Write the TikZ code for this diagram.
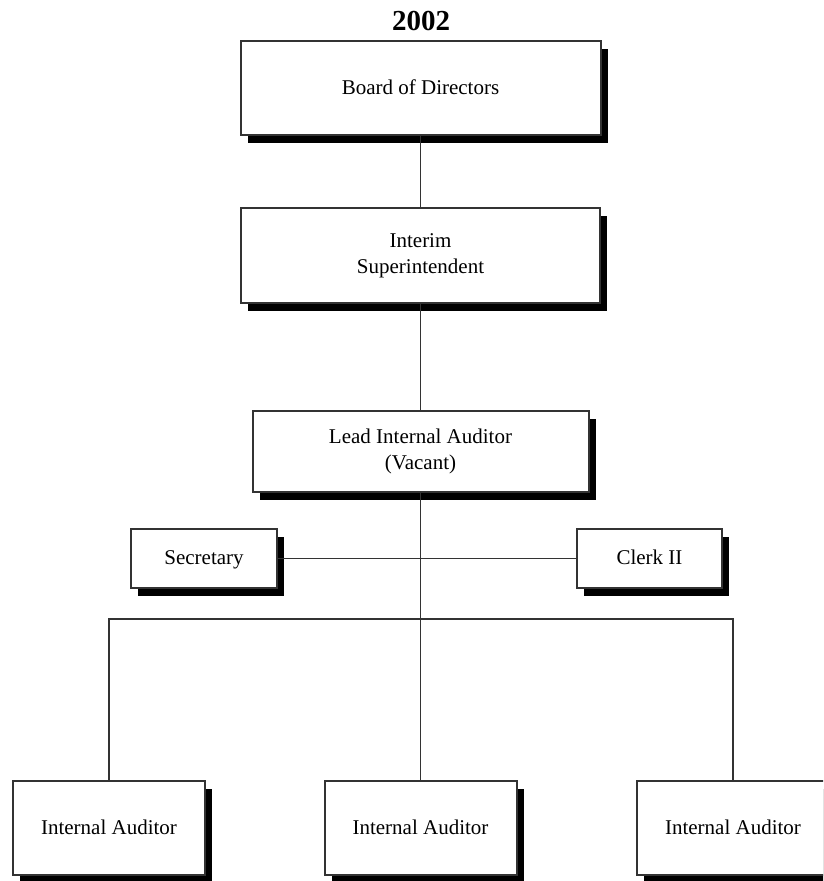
\documentclass[tikz,border=0pt]{standalone}
\usepackage{fontspec}
\setmainfont{Liberation Serif}
\usetikzlibrary{shadows}
\begin{document}
\begin{tikzpicture}[x=1pt,y=-1pt,
  orgbox/.style={draw=black!80, line width=2pt, fill=white, inner sep=0pt,
    align=center, font=\fontsize{21}{26}\selectfont,
    drop shadow={shadow xshift=7pt, shadow yshift=-8pt, fill=black, opacity=1}},
  oneline/.style={text height=14pt, text depth=2pt},
  link/.style={draw=black!80, line width=1.8pt}]
\useasboundingbox (0,0) rectangle (823,881);
\clip (0,0) rectangle (823,881);

% title
\node[anchor=base, font=\fontsize{29}{29}\selectfont\bfseries] (title) at (421,30) {2002};

% chain of command
\node[orgbox, oneline, minimum width=360pt, minimum height=94pt] (board) at (420.5,88) {Board of Directors};
\node[orgbox, minimum width=359pt, minimum height=95pt] (interim) at (420.5,255.5) {Interim\\Superintendent};
\node[orgbox, minimum width=336pt, minimum height=81pt] (lead) at (420.5,451.5) {Lead Internal Auditor\\(Vacant)};

% support staff
\node[orgbox, oneline, minimum width=146pt, minimum height=59pt] (sec) at (204,558.5) {Secretary};
\node[orgbox, oneline, minimum width=145pt, minimum height=59pt] (clerk) at (649.5,558.5) {Clerk II};

% auditors
\node[orgbox, oneline, minimum width=192pt, minimum height=94pt] (ia1) at (109,828) {Internal Auditor};
\node[orgbox, oneline, minimum width=192pt, minimum height=94pt] (ia2) at (420.5,828) {Internal Auditor};
\node[orgbox, oneline, minimum width=192pt, minimum height=94pt] (ia3) at (733,828) {Internal Auditor};

% connectors
\coordinate (bus) at (420.5,619);
\draw[link] (board.south) -- (interim.north);
\draw[link] (interim.south) -- (lead.north);
\draw[link] (sec.east) -- (clerk.west);
\draw[link] (lead.south) -- (ia2.north);
\draw[link] (ia1.north) -- (ia1.north |- bus) -- (ia3.north |- bus) -- (ia3.north);
\end{tikzpicture}
\end{document}
